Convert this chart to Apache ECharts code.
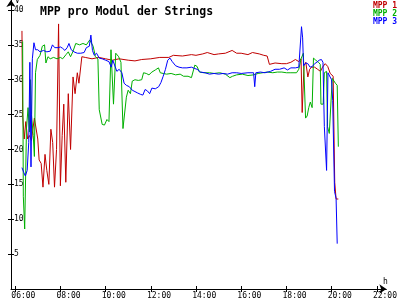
<!DOCTYPE html>
<html><head><meta charset="utf-8">
<script src="https://cdn.jsdelivr.net/npm/echarts@6/dist/echarts.min.js"></script>
<style>html,body{margin:0;padding:0;background:#fff}#c{width:400px;height:300px}</style>
</head><body><div id="c"></div>
<script>
// Time in hours, values in volts
const redT = [6.30,6.33,6.40,6.47,6.55,6.63,6.72,6.85,6.93,7.00,7.06,7.15,7.23,7.32,7.40,7.49,7.58,7.66,7.74,7.83,7.92,8.00,8.08,8.15,8.24,8.35,8.45,8.56,8.65,8.75,8.82,8.95,9.10,9.40,9.70,10.0,10.3,10.6,11.0,11.3,11.6,12.0,12.4,12.8,13.0,13.4,13.8,14.0,14.3,14.5,14.8,15.0,15.3,15.6,15.8,16.0,16.3,16.5,16.8,17.0,17.15,17.25,17.5,17.8,18.0,18.2,18.4,18.55,18.65,18.70,18.78,18.86,18.95,19.03,19.12,19.25,19.38,19.51,19.60,19.72,19.83,19.94,20.07,20.14,20.20,20.30];
const redV = [37.0,25.0,21.5,24.0,21.5,22.0,21.3,24.5,24.3,21.5,18.5,18.0,14.6,19.3,17.0,15.0,22.9,21.0,14.6,20.0,38.0,14.8,22.0,26.5,15.3,28.0,20.0,30.4,28.0,31.0,29.5,33.3,33.2,33.0,33.2,33.0,32.8,33.0,32.8,32.7,32.9,33.0,33.2,33.2,33.5,33.4,33.6,33.5,33.7,33.9,33.6,33.7,33.8,34.2,33.8,33.8,33.6,33.9,33.7,33.5,33.4,32.2,32.4,32.3,32.3,32.5,32.9,32.6,33.0,25.3,32.0,32.5,30.4,31.5,31.8,31.8,31.5,31.2,31.8,32.3,31.9,30.9,30.5,15.3,12.9,12.9];
const greenT = [6.33,6.36,6.42,6.50,6.57,6.63,6.68,6.72,6.80,6.85,6.90,6.98,7.10,7.20,7.30,7.36,7.45,7.55,7.70,7.85,8.00,8.10,8.25,8.35,8.45,8.55,8.68,8.85,9.00,9.15,9.30,9.45,9.55,9.66,9.72,9.85,9.95,10.06,10.15,10.24,10.35,10.45,10.58,10.68,10.77,10.84,10.92,11.00,11.10,11.18,11.30,11.45,11.60,11.68,11.80,11.92,12.05,12.20,12.34,12.42,12.55,12.70,12.90,13.10,13.30,13.45,13.65,13.80,13.95,14.05,14.15,14.35,14.60,14.80,15.05,15.30,15.50,15.62,15.80,16.05,16.30,16.55,16.75,16.95,17.15,17.40,17.60,17.80,18.00,18.20,18.45,18.55,18.65,18.75,18.80,18.85,18.92,18.99,19.06,19.14,19.20,19.30,19.42,19.50,19.53,19.63,19.68,19.78,19.82,19.90,19.98,20.03,20.10,20.17,20.25,20.30];
const greenV = [35.5,13.3,8.6,23.0,26.0,22.5,30.0,25.0,22.0,19.0,31.0,32.9,33.5,34.8,35.0,32.4,33.3,33.0,33.2,33.0,33.2,33.0,33.6,34.0,33.3,34.0,35.2,35.0,35.2,35.0,35.7,34.8,33.3,33.0,25.7,23.6,23.5,24.3,24.0,34.3,26.5,33.8,33.3,32.5,23.0,22.9,27.5,28.5,28.0,29.8,30.0,29.9,30.0,31.0,30.9,30.7,31.1,31.4,31.7,31.0,30.9,30.8,30.9,30.7,30.8,30.5,30.5,30.3,32.1,31.9,31.1,31.0,31.0,30.9,31.0,30.8,30.3,30.5,30.7,30.8,30.6,30.7,30.9,31.0,31.1,31.0,31.1,31.1,31.0,31.0,31.0,31.5,33.0,33.8,33.8,24.5,24.8,26.0,26.8,26.0,33.1,32.8,32.5,32.2,26.5,26.5,31.0,31.2,23.3,22.3,22.5,30.2,30.0,29.5,29.2,20.4];
const blueT = [6.30,6.38,6.45,6.53,6.60,6.65,6.70,6.76,6.83,6.90,7.00,7.10,7.25,7.40,7.55,7.65,7.75,7.90,8.00,8.10,8.20,8.30,8.38,8.48,8.60,8.75,8.90,9.05,9.15,9.28,9.35,9.42,9.50,9.60,9.72,9.85,10.0,10.15,10.25,10.32,10.40,10.50,10.60,10.72,10.82,10.92,11.05,11.18,11.30,11.42,11.55,11.65,11.75,11.85,11.95,12.05,12.20,12.35,12.45,12.55,12.65,12.75,12.85,12.95,13.10,13.25,13.40,13.60,13.80,13.95,14.05,14.20,14.40,14.60,14.80,15.00,15.20,15.40,15.60,15.80,16.00,16.30,16.55,16.60,16.65,16.85,17.05,17.30,17.50,17.70,17.90,18.05,18.20,18.40,18.55,18.62,18.67,18.72,18.76,18.86,18.95,19.05,19.15,19.25,19.35,19.45,19.55,19.62,19.68,19.78,19.84,19.92,20.00,20.05,20.13,20.20,20.25];
const blueV = [17.4,16.7,16.2,17.0,21.0,32.5,17.5,33.0,35.3,34.3,34.3,34.0,34.2,34.0,34.1,35.0,34.6,34.6,34.7,34.5,34.2,34.6,35.2,34.3,34.0,33.8,33.8,33.9,34.6,34.8,36.4,34.2,33.5,33.8,33.1,33.0,32.8,32.6,31.8,32.8,33.0,31.2,31.5,31.0,29.5,29.2,29.0,28.5,28.3,28.1,27.9,27.8,28.6,28.4,28.0,28.8,28.7,29.0,29.6,30.5,31.5,32.8,33.1,32.6,32.0,31.8,31.7,31.7,31.8,31.6,31.5,31.1,31.0,30.8,30.9,30.8,30.9,30.8,31.0,31.0,30.9,31.0,31.0,29.0,31.0,31.1,31.0,31.2,31.5,31.5,31.7,31.4,31.7,31.7,31.8,31.8,37.6,36.0,32.0,32.4,32.3,31.8,31.9,32.3,32.5,32.8,32.9,32.5,23.3,17.0,31.0,30.9,30.0,27.0,14.0,13.0,6.5];
const xTicks = [6,8,10,12,14,16,18,20,22];
const yTicks = [5,10,15,20,25,30,35,40];
const seriesNames = ['MPP 1','MPP 2','MPP 3'];
const colors = ['#c00000','#00b000','#0000ff'];

const font = 'DejaVu Sans Mono';
const xMin = 5.815, xMax = 22.425, yMax = 41.43;
const pad = n => (n < 10 ? '0' : '') + n;
const zip = (t, v) => t.map((x, i) => [x, v[i]]);

const chart = echarts.init(document.getElementById('c'), null, {renderer: 'canvas'});
const axisCommon = {type: 'value', splitLine: {show: false}};
chart.setOption({
  animation: false,
  backgroundColor: '#ffffff',
  title: {text: 'MPP pro Modul der Strings', left: 35, top: 1,
    textStyle: {fontFamily: font, fontSize: 11.5, fontWeight: 'bold', color: '#000'}},
  legend: {orient: 'vertical', right: 3, top: 2, itemGap: 0, itemWidth: 0, itemHeight: 7, padding: 0,
    icon: 'none', selectedMode: false,
    data: seriesNames.map((n, i) => ({name: n, textStyle: {color: colors[i], fontFamily: font, fontSize: 8, fontWeight: 'bold'}}))},
  grid: {left: 11, right: 2, top: 0, bottom: 10, containLabel: false},
  xAxis: [
    Object.assign({}, axisCommon, {min: xMin, max: xMax,
      axisLine: {show: true, lineStyle: {color: '#000', width: 1}, symbol: ['none', 'arrow'], symbolSize: [7, 7]},
      axisTick: {show: true, inside: true, length: 3, customValues: xTicks, lineStyle: {color: '#000'}},
      axisLabel: {show: true, customValues: xTicks.map(v => v - 0.17), align: 'left', margin: 3,
        fontFamily: font, fontSize: 8, color: '#000',
        formatter: v => pad(Math.round(v)) + ':00'}}),
    Object.assign({}, axisCommon, {min: xMin, max: xMax, position: 'bottom',
      axisLine: {show: false},
      axisTick: {show: true, inside: false, length: 3, customValues: xTicks, lineStyle: {color: '#000'}},
      axisLabel: {show: false}})
  ],
  yAxis: [
    Object.assign({}, axisCommon, {min: 0, max: yMax,
      axisLine: {show: true, lineStyle: {color: '#000', width: 1}, symbol: ['none', 'arrow'], symbolSize: [7, 7]},
      axisTick: {show: true, inside: true, length: 3, customValues: yTicks, lineStyle: {color: '#000'}},
      axisLabel: {show: true, inside: true, customValues: yTicks, margin: 3,
        fontFamily: font, fontSize: 8, color: '#000'}}),
    Object.assign({}, axisCommon, {min: 0, max: yMax, position: 'left',
      axisLine: {show: false},
      axisTick: {show: true, inside: false, length: 3, customValues: yTicks, lineStyle: {color: '#000'}},
      axisLabel: {show: false}})
  ],
  graphic: [
    {type: 'text', left: 15, top: -3, style: {text: 'V', font: '8px ' + font, fill: '#000'}},
    {type: 'text', left: 383, top: 278, style: {text: 'h', font: '8px ' + font, fill: '#000'}}
  ],
  series: [
    {name: seriesNames[0], type: 'line', data: zip(redT, redV)},
    {name: seriesNames[1], type: 'line', data: zip(greenT, greenV)},
    {name: seriesNames[2], type: 'line', data: zip(blueT, blueV)}
  ].map((s, i) => Object.assign(s, {showSymbol: false, symbol: 'none', color: colors[i],
    lineStyle: {width: 1, color: colors[i]}, z: 2 + i}))
});
</script></body></html>
